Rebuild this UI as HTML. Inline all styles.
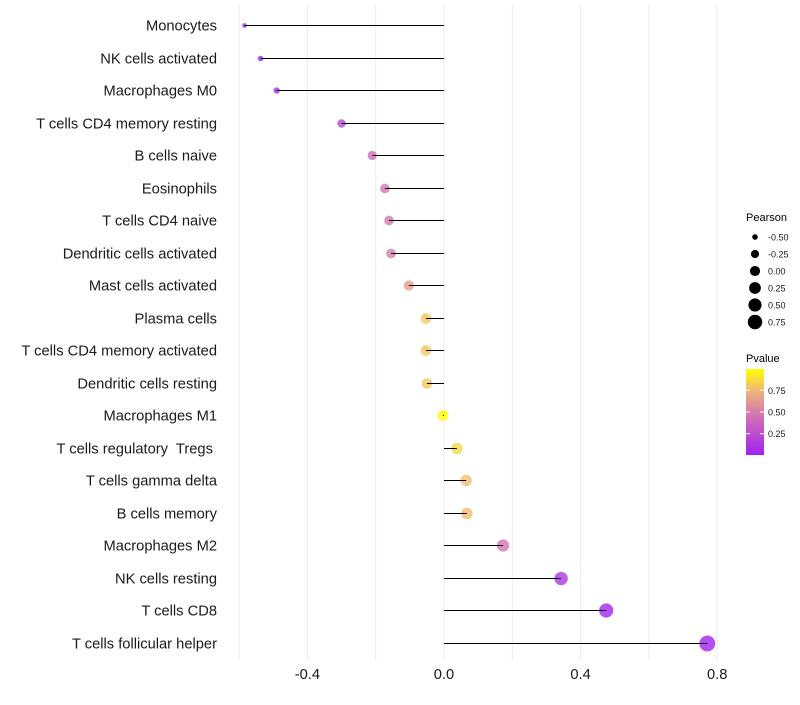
<!DOCTYPE html>
<html><head><meta charset="utf-8"><style>
body{margin:0;background:#fff}
svg text{font-family:"Liberation Sans",sans-serif;white-space:pre}
</style></head><body>
<svg id="chart" width="800" height="700" xmlns="http://www.w3.org/2000/svg">
<g id="grid"></g>
<g id="marks"></g>
<g id="ylabels"></g>
<g id="xlabels"></g>
<g id="legend"></g>
</svg>
<script>
const categories=["Monocytes","NK cells activated","Macrophages M0","T cells CD4 memory resting","B cells naive","Eosinophils","T cells CD4 naive","Dendritic cells activated","Mast cells activated","Plasma cells","T cells CD4 memory activated","Dendritic cells resting","Macrophages M1","T cells regulatory  Tregs ","T cells gamma delta","B cells memory","Macrophages M2","NK cells resting","T cells CD8","T cells follicular helper"];
const pearson=[-0.584,-0.537,-0.49,-0.30,-0.21,-0.173,-0.161,-0.155,-0.103,-0.053,-0.053,-0.05,-0.003,0.038,0.065,0.067,0.173,0.343,0.475,0.771];
const pvalue=[0.02,0.03,0.05,0.2,0.4,0.45,0.48,0.5,0.65,0.8,0.8,0.8,0.99,0.87,0.78,0.77,0.45,0.13,0.03,0.01];
const xTicks=[-0.4,0.0,0.4,0.8];
const sizeBreaks=[-0.5,-0.25,0,0.25,0.5,0.75];
const pBreaks=[0.25,0.5,0.75];
const NS="http://www.w3.org/2000/svg";
const x=v=>444+v*341.5;
const y=i=>Math.round(25+i*32.5)+0.5;
const r=v=>Math.sqrt(5+42*(v+0.6));
function col(p){
  const st=[[0,[160,32,240]],[0.5,[214,125,172]],[0.75,[240,182,120]],[1,[255,255,0]]];
  for(let k=1;k<st.length;k++){if(p<=st[k][0]){const a=st[k-1],b=st[k],t=(p-a[0])/(b[0]-a[0]);
    return `rgb(${a[1].map((c,j)=>Math.round(c+(b[1][j]-c)*t)).join(',')})`;}}
  return 'rgb(255,255,0)';
}
function mk(tag,at,parent){const e=document.createElementNS(NS,tag);for(const k in at)e.setAttribute(k,at[k]);parent.appendChild(e);return e;}
const grid=document.getElementById('grid'),marks=document.getElementById('marks'),yl=document.getElementById('ylabels'),xl=document.getElementById('xlabels'),lg=document.getElementById('legend');
[-0.6,-0.4,-0.2,0,0.2,0.4,0.6,0.8].forEach(v=>{
  const g=mk('line',{x1:x(v),x2:x(v),y1:5,y2:660,stroke:'#ebebeb','stroke-width':1},grid);
  
  
});
categories.forEach((c,i)=>{
  const cx=x(pearson[i]);
  const pt=mk('circle',{cx:cx,cy:y(i),r:r(pearson[i]),fill:col(pvalue[i]),'fill-opacity':0.8},marks);
  
  
  const ln=mk('line',{x1:x(0),x2:cx,y1:y(i),y2:y(i),stroke:'#000','stroke-width':1},marks);
  
  
  const t=mk('text',{x:217,y:y(i)+5,'text-anchor':'end','font-size':14.7,fill:'#1a1a1a'},yl);
  t.textContent=c;
  
  
});
xTicks.forEach(v=>{
  const t=mk('text',{x:x(v),y:679,'text-anchor':'middle','font-size':14.7,fill:'#1a1a1a'},xl);
  t.textContent=v.toFixed(1);
  
  
});
const lt=mk('text',{x:746,y:221,'font-size':11,fill:'#000'},lg);lt.textContent='Pearson';


sizeBreaks.forEach((v,i)=>{
  const yy=237+i*17;
  const c=mk('circle',{cx:755,cy:yy,r:r(v)*0.92,fill:'#000'},lg);
  
  
  const t=mk('text',{x:768,y:yy+3.5,'font-size':9,fill:'#1a1a1a'},lg);t.textContent=v.toFixed(2);
  
  
});
const pt2=mk('text',{x:746,y:362,'font-size':11,fill:'#000'},lg);pt2.textContent='Pvalue';


const defs=mk('defs',{},lg);
const gr=mk('linearGradient',{id:'pg',x1:0,y1:1,x2:0,y2:0},defs);
[[0,0],[0.5,0.5],[0.75,0.75],[1,1]].forEach(s=>mk('stop',{offset:s[0],'stop-color':col(s[1])},gr));
const bar=mk('rect',{x:746,y:369,width:18,height:86,fill:'url(#pg)'},lg);


const py=p=>455-(p-0.005)/0.99*86;
pBreaks.forEach(p=>{
  const t=mk('text',{x:768,y:py(p)+3.5,'font-size':9,fill:'#1a1a1a'},lg);t.textContent=p.toFixed(2);
  
  
  mk('line',{x1:746,x2:750,y1:py(p),y2:py(p),stroke:'#fff'},lg);
  mk('line',{x1:760,x2:764,y1:py(p),y2:py(p),stroke:'#fff'},lg);
});
</script>
</body></html>
